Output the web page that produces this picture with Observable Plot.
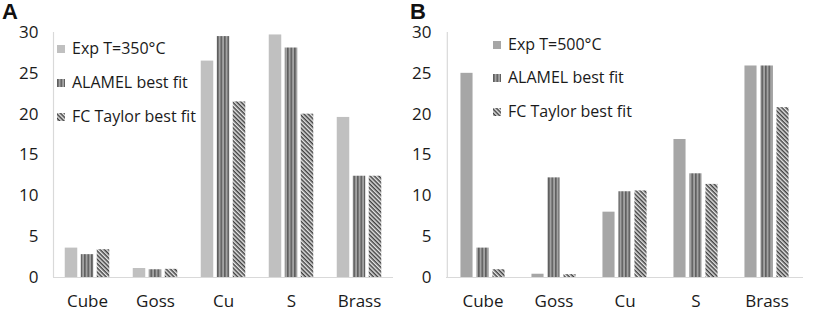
<!DOCTYPE html>
<html><head><meta charset="utf-8">
<script src="https://cdn.jsdelivr.net/npm/d3@7"></script>
<script src="https://cdn.jsdelivr.net/npm/@observablehq/plot@0.6"></script>
<style>
body{margin:0;background:#fff;font-family:"Open Sans",sans-serif;}
#wrap{position:relative;width:816px;height:312px;overflow:hidden;}
.panel{position:absolute;top:0;}
.panel svg{overflow:visible}
.lbl{position:absolute;font:bold 22px/22px "Liberation Sans",Arial,sans-serif;color:#111;}
.leg{position:absolute;font:16px "Open Sans",sans-serif;color:#1a1a1a;white-space:nowrap;}
.leg div{position:absolute;left:0;height:20px;line-height:20px;}
.leg svg{vertical-align:middle;margin-right:7px;position:relative;top:-1px}
</style></head><body>
<svg width="0" height="0" style="position:absolute">
<defs>
<pattern id="vstripe" width="3.5" height="4" patternUnits="userSpaceOnUse">
<rect width="3.5" height="4" fill="#a3a3a3"/><rect width="1.6" height="4" fill="#5e5e5e"/>
</pattern>
<pattern id="diag" width="3" height="3" patternUnits="userSpaceOnUse" patternTransform="rotate(45)">
<rect width="3" height="3" fill="#e6e6e6"/><rect width="3" height="1.5" fill="#404040"/>
</pattern>
</defs>
</svg>
<div id="wrap"></div>
<script>
const categories = ["Cube", "Goss", "Cu", "S", "Brass"];
const yTicks = [0, 5, 10, 15, 20, 25, 30];
const seriesA = ["Exp T=350°C", "ALAMEL best fit", "FC Taylor best fit"];
const seriesB = ["Exp T=500°C", "ALAMEL best fit", "FC Taylor best fit"];
const expA    = [3.6, 1.1, 26.5, 29.7, 19.6];
const alamelA = [2.8, 0.95, 29.5, 28.1, 12.4];
const fcA     = [3.4, 1.0, 21.5, 20.0, 12.4];
const expB    = [25.0, 0.4, 8.0, 16.9, 25.9];
const alamelB = [3.6, 12.2, 10.5, 12.7, 25.9];
const fcB     = [0.95, 0.35, 10.6, 11.4, 20.8];

function chart({exp, alamel, fc, expColor, ml, mr, width}) {
  const bw = (width - ml - mr) / categories.length;
  const b = 12.5, g = 3.5;
  const start = (bw - (3*b + 2*g)) / 2;
  const rows = (vals) => categories.map((c, i) => ({cat: c, v: vals[i]}));
  const bar = (vals, fill, k) => Plot.barY(rows(vals), {
    x: "cat", y: "v", fill,
    insetLeft: start + k*(b+g),
    insetRight: bw - (start + k*(b+g) + b)
  });
  return Plot.plot({
    width, height: 312,
    marginLeft: ml, marginRight: mr, marginTop: 32, marginBottom: 35,
    style: {fontFamily: "Open Sans, sans-serif", color: "#1a1a1a", background: "transparent", overflow: "visible"},
    x: {domain: categories, padding: 0, label: null},
    y: {domain: [0, 30], label: null},
    marks: [
      Plot.axisX({tickSize: 0, tickPadding: 17, fontSize: 17, label: null}),
      Plot.axisY({ticks: yTicks, tickSize: 0, tickPadding: 15, fontSize: 17, label: null}),
      Plot.ruleY([0], {stroke: "#d9d9d9", strokeWidth: 1.2}),
      Plot.ruleX([categories[0]], {stroke: "#d9d9d9", strokeWidth: 1.2, dx: -bw/2, y1: 0, y2: 30}),
      bar(exp, expColor, 0),
      bar(alamel, "url(#vstripe)", 1),
      bar(fc, "url(#diag)", 2)
    ]
  });
}

const wrap = document.getElementById("wrap");
function swatch(fill) {
  return `<svg width="8" height="8"><rect width="8" height="8" fill="${fill}"/></svg>`;
}
function addPanel(left, opts, letter, series, legLeft, legTops, expColor) {
  const p = document.createElement("div");
  p.className = "panel"; p.style.left = left + "px";
  p.appendChild(chart(opts));
  wrap.appendChild(p);
  const l = document.createElement("div");
  l.className = "lbl"; l.textContent = letter;
  l.style.left = (left + 2) + "px"; l.style.top = "1px";
  wrap.appendChild(l);
  const leg = document.createElement("div");
  leg.className = "leg"; leg.style.left = legLeft + "px"; leg.style.top = "0px";
  const fills = [expColor, "url(#vstripe)", "url(#diag)"];
  series.forEach((s, i) => {
    const d = document.createElement("div");
    d.style.top = (legTops[i] - 10) + "px";
    d.innerHTML = swatch(fills[i]) + s;
    leg.appendChild(d);
  });
  wrap.appendChild(leg);
}
addPanel(0, {exp: expA, alamel: alamelA, fc: fcA, expColor: "#c0c0c0", ml: 53, mr: 15, width: 408},
  "A", seriesA, 57, [48, 82, 116], "#c0c0c0");
addPanel(408, {exp: expB, alamel: alamelB, fc: fcB, expColor: "#a6a6a6", ml: 38, mr: 13, width: 408},
  "B", seriesB, 493, [44, 77, 111], "#a6a6a6");
</script>
</body></html>
